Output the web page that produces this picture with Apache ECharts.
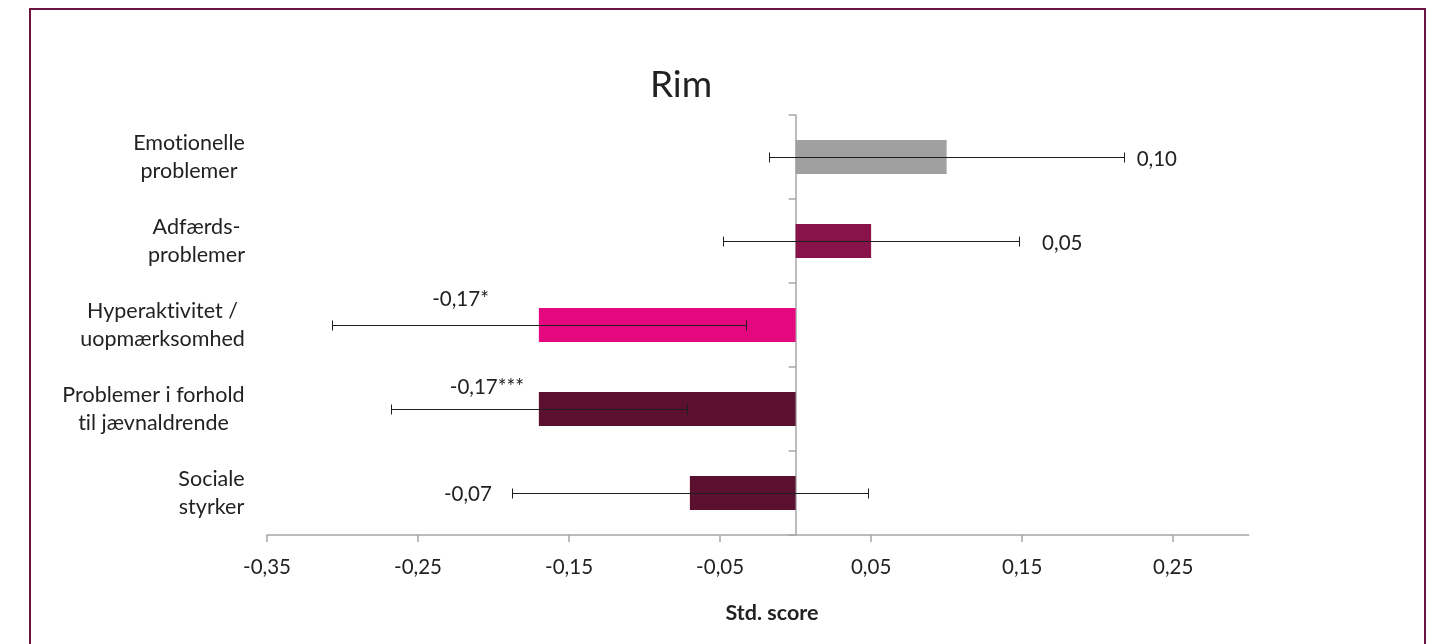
<!DOCTYPE html>
<html><head><meta charset="utf-8">
<script src="https://cdn.jsdelivr.net/npm/echarts@6/dist/echarts.min.js"></script>
<style>html,body{margin:0;padding:0;background:#fff}#c{width:1433px;height:644px}</style>
</head><body><div id="c"></div>
<script>
// ---- data ----
const categories = ['Emotionelle\nproblemer', 'Adfærds-\nproblemer', 'Hyperaktivitet /\nuopmærksomhed', 'Problemer i forhold\ntil jævnaldrende', 'Sociale\nstyrker'];
const values = [0.10, 0.05, -0.17, -0.17, -0.07];
const ciLow = [-0.0175, -0.048, -0.307, -0.268, -0.188];
const ciHigh = [0.2175, 0.148, -0.033, -0.072, 0.048];
const valueLabels = ['0,10', '0,05', '-0,17*', '-0,17***', '-0,07'];
const xTicks = [-0.35, -0.25, -0.15, -0.05, 0.05, 0.15, 0.25];
const xTickLabels = ['-0,35', '-0,25', '-0,15', '-0,05', '0,05', '0,15', '0,25'];

// ---- styles ----
const FONT = 'Lato';
const TXT = '#222222';
const barColors = ['#a0a0a0', '#88124a', '#e4087f', '#5c1030', '#5c1030'];
const labelPlacement = [
  {align: 'left', dx: 190, dy: 2},
  {align: 'left', dx: 171, dy: 2},
  {align: 'right', dx: -50, dy: -26},
  {align: 'right', dx: -15, dy: -22},
  {align: 'right', dx: -198, dy: 1}
];
const catFontSize = 21.5, tickFontSize = 20.5;

// measure category label lines so lines can be centred inside a right-aligned block
const ctx = document.createElement('canvas').getContext('2d');
ctx.textRendering = 'optimizeSpeed';
ctx.font = catFontSize + 'px ' + FONT;
const rich = {};
categories.forEach((c, i) => {
  const w = Math.max(...c.split('\n').map(l => ctx.measureText(l).width));
  rich['c' + i] = {width: Math.ceil(w), align: 'center', fontSize: catFontSize, fontFamily: FONT, lineHeight: 28, color: TXT};
});

const chart = echarts.init(document.getElementById('c'));
const snap = v => Math.round(v) + 0.5;

chart.setOption({
  animation: false,
  grid: {left: 267, right: 184.3, top: 115, bottom: 109},
  xAxis: {
    type: 'value', min: -0.35, max: 0.30,
    splitLine: {show: false},
    axisLine: {show: true, lineStyle: {color: '#a6a6a6', width: 1.5}},
    axisTick: {show: true, length: 7, customValues: xTicks, lineStyle: {color: '#a6a6a6', width: 1.5}},
    axisLabel: {
      customValues: xTicks, margin: 22, fontSize: tickFontSize, fontFamily: FONT, color: TXT,
      formatter: v => { const k = xTicks.findIndex(t => Math.abs(t - v) < 1e-9); return k >= 0 ? xTickLabels[k] : ''; }
    }
  },
  yAxis: [{
    type: 'category', data: categories, inverse: true, position: 'left',
    axisLine: {show: false, onZero: false}, axisTick: {show: false},
    axisLabel: {margin: 22, formatter: (v, i) => v.split('\n').map(l => '{c' + i + '|' + l + '}').join('\n'), rich: rich}
  }, {
    type: 'category', data: categories, inverse: true, position: 'left',
    axisLine: {show: true, onZero: true, lineStyle: {color: '#a6a6a6', width: 1.5}},
    axisTick: {show: true, length: 7, lineStyle: {color: '#a6a6a6', width: 1.5}},
    axisLabel: {show: false}
  }],
  series: [{
    type: 'bar', yAxisIndex: 0, barWidth: 34,
    data: values.map((v, i) => ({value: v, itemStyle: {color: barColors[i]}}))
  }, {
    type: 'custom', yAxisIndex: 0, z: 5,
    encode: {x: [1, 2, 3], y: 0},
    data: values.map((v, i) => [i, ciLow[i], ciHigh[i], v]),
    renderItem: (params, api) => {
      const i = api.value(0);
      const lo = api.coord([api.value(1), i]);
      const hi = api.coord([api.value(2), i]);
      const m = api.coord([api.value(3), i]);
      const h = 5;
      const y = snap(lo[1]);
      const xl = snap(lo[0]), xh = snap(hi[0]);
      const s = {stroke: '#1e1e1e', lineWidth: 1};
      const lp = labelPlacement[i];
      return {type: 'group', children: [
        {type: 'line', shape: {x1: xl, y1: y, x2: xh, y2: y}, style: s},
        {type: 'line', shape: {x1: xl, y1: y - h, x2: xl, y2: y + h}, style: s},
        {type: 'line', shape: {x1: xh, y1: y - h, x2: xh, y2: y + h}, style: s},
        {type: 'text', x: m[0] + lp.dx, y: m[1] + lp.dy,
          style: {text: valueLabels[i], align: lp.align, verticalAlign: 'middle', fontSize: tickFontSize, fontFamily: FONT, fill: TXT}}
      ]};
    }
  }],
  graphic: [
    {type: 'rect', shape: {x: 30, y: 9, width: 1395, height: 700}, style: {fill: 'none', stroke: '#6b1442', lineWidth: 2}, silent: true},
    {type: 'text', x: 681, y: 85, style: {text: 'Rim', align: 'center', verticalAlign: 'middle', fontSize: 37, fontFamily: FONT, fill: TXT}},
    {type: 'text', x: 772, y: 613, style: {text: 'Std. score', align: 'center', verticalAlign: 'middle', fontSize: 21.5, fontWeight: 'bold', fontFamily: FONT, fill: TXT}}
  ]
});

// reference shows plain "ti" (no ligatures): switch canvas text shaping and repaint
document.querySelectorAll('#c canvas').forEach(cv => { const c2 = cv.getContext('2d'); if (c2) c2.textRendering = 'optimizeSpeed'; });
const zr = chart.getZr();
if (zr.painter && zr.painter.refresh) zr.painter.refresh(true); else zr.refreshImmediately();
</script></body></html>
